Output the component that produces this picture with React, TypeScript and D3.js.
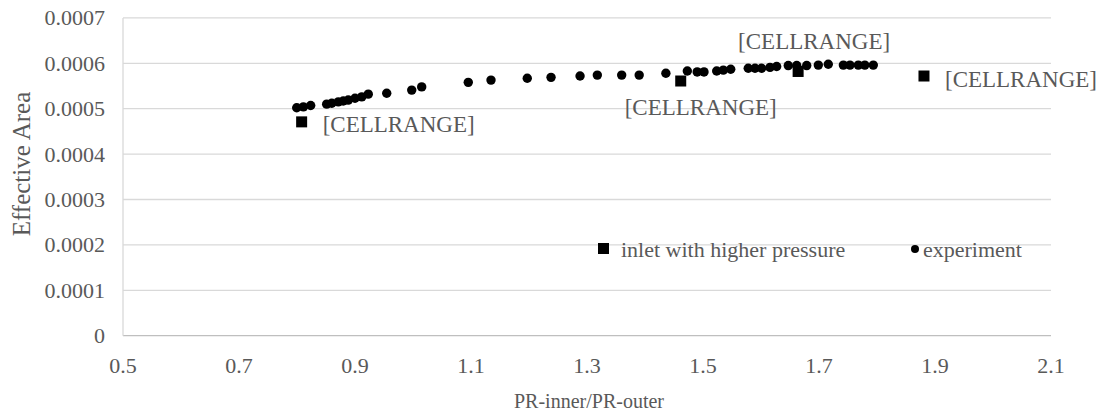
import React from "react";
import * as d3 from "d3";

// Experimental effective area against inner/outer pressure ratio
const experimentX = [
  0.7995, 0.811, 0.8236, 0.8512, 0.86, 0.8712, 0.8798, 0.8884, 0.9, 0.9116,
  0.9229, 0.9547, 0.9978, 1.015, 1.0953, 1.1345, 1.197, 1.238, 1.288, 1.3178,
  1.3598, 1.39, 1.436, 1.473, 1.49, 1.5017, 1.5236, 1.535, 1.5478, 1.578,
  1.5897, 1.601, 1.6155, 1.627, 1.647, 1.6616, 1.6788, 1.6988, 1.716, 1.742,
  1.7534, 1.7678, 1.779, 1.7936,
];
const experimentY = [
  0.000502, 0.000504, 0.000507, 0.00051, 0.000512, 0.000515, 0.000517, 0.000519,
  0.000523, 0.000526, 0.000532, 0.000534, 0.000541, 0.000548, 0.000558, 0.000563,
  0.000567, 0.000569, 0.000572, 0.000574, 0.000574, 0.000574, 0.000578, 0.000583,
  0.000581, 0.000581, 0.000583, 0.000585, 0.000587, 0.000589, 0.000589, 0.000589,
  0.000591, 0.000593, 0.000595, 0.000595, 0.000595, 0.000596, 0.000598, 0.000596,
  0.000596, 0.000596, 0.000596, 0.000596,
];

// Simulated case: inlet with higher pressure
const inletX = [0.808, 1.4616, 1.664, 1.881];
const inletY = [0.000471, 0.000561, 0.000582, 0.000572];
const inletLabels = ["[CELLRANGE]", "[CELLRANGE]", "[CELLRANGE]", "[CELLRANGE]"];
// label placement relative to its marker
const labelPos = ["right", "below", "above", "right"];

const xTicks = [0.5, 0.7, 0.9, 1.1, 1.3, 1.5, 1.7, 1.9, 2.1];
const yTicks = [0, 0.0001, 0.0002, 0.0003, 0.0004, 0.0005, 0.0006, 0.0007];

const seriesNames = ["inlet with higher pressure", "experiment"];

const W = 1105;
const H = 416;
const FONT = "'Liberation Serif', 'Times New Roman', serif";
const TEXT = "#595959";

export default function App() {
  const x = d3.scaleLinear().domain([0.5, 2.1]).range([123, 1051]);
  const y = d3.scaleLinear().domain([0, 0.0007]).range([335.7, 17.9]);
  const sq = 11;

  const labelAttrs = (i: number) => {
    const cx = x(inletX[i]);
    const cy = y(inletY[i]);
    const p = labelPos[i];
    if (p === "right") return { x: cx + 21, y: cy + 3, anchor: "start" };
    if (p === "below") return { x: cx + 20, y: cy + 26, anchor: "middle" };
    return { x: cx + 16, y: cy - 30, anchor: "middle" };
  };

  return (
    <svg
      width={W}
      height={H}
      viewBox={`0 0 ${W} ${H}`}
      style={{ position: "absolute", left: 0, top: 0, background: "#fff" }}
      fontFamily={FONT}
    >
      {/* horizontal gridlines */}
      {yTicks.map((t) => (
        <line
          key={"g" + t}
          x1={x(0.5)}
          x2={x(2.1)}
          y1={y(t)}
          y2={y(t)}
          stroke={t === 0 ? "#bfbfbf" : "#d9d9d9"}
          strokeWidth={1.3}
        />
      ))}
      {/* vertical axis line */}
      <line
        x1={x(0.5)}
        x2={x(0.5)}
        y1={y(0)}
        y2={y(0.0007)}
        stroke="#d9d9d9"
        strokeWidth={1.3}
      />
      {/* y tick labels */}
      {yTicks.map((t) => (
        <text
          key={"yl" + t}
          x={105}
          y={y(t)}
          textAnchor="end"
          dominantBaseline="central"
          fontSize={22}
          fill={TEXT}
        >
          {t === 0 ? "0" : d3.format(".4f")(t)}
        </text>
      ))}
      {/* x tick labels */}
      {xTicks.map((t) => (
        <text
          key={"xl" + t}
          x={x(t)}
          y={373}
          textAnchor="middle"
          fontSize={22}
          fill={TEXT}
        >
          {d3.format(".1f")(t)}
        </text>
      ))}
      {/* axis titles */}
      <text
        transform={`translate(30, 164) rotate(-90)`}
        textAnchor="middle"
        fontSize={25}
        fill={TEXT}
      >
        Effective Area
      </text>
      <text x={589} y={408} textAnchor="middle" fontSize={20} fill={TEXT}>
        PR-inner/PR-outer
      </text>

      {/* experiment points */}
      {experimentX.map((v, i) => (
        <circle key={"e" + i} cx={x(v)} cy={y(experimentY[i])} r={4.7} fill="#000" />
      ))}
      {/* inlet points */}
      {inletX.map((v, i) => (
        <rect
          key={"s" + i}
          x={x(v) - sq / 2}
          y={y(inletY[i]) - sq / 2}
          width={sq}
          height={sq}
          fill="#000"
        />
      ))}
      {/* data labels */}
      {inletLabels.map((l, i) => {
        const a = labelAttrs(i);
        return (
          <text
            key={"lab" + i}
            x={a.x}
            y={a.y}
            textAnchor={a.anchor as any}
            dominantBaseline="central"
            fontSize={23}
            fill={TEXT}
          >
            {l}
          </text>
        );
      })}

      {/* legend */}
      <rect x={598} y={243} width={11} height={11} fill="#000" />
      <text x={621} y={249} dominantBaseline="central" fontSize={22} fill={TEXT}>
        {seriesNames[0]}
      </text>
      <circle cx={915} cy={249} r={4} fill="#000" />
      <text x={923} y={249} dominantBaseline="central" fontSize={22} fill={TEXT}>
        {seriesNames[1]}
      </text>
    </svg>
  );
}
